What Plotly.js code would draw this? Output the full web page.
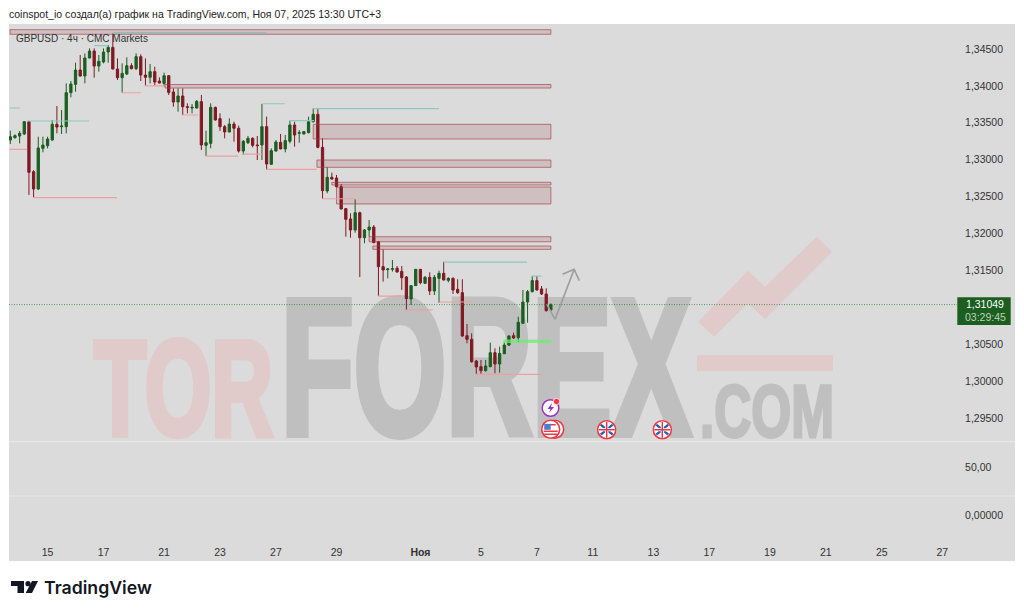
<!DOCTYPE html>
<html><head><meta charset="utf-8">
<script src="https://cdn.plot.ly/plotly-3.0.1.min.js"></script>
<style>html,body{margin:0;padding:0;background:#fff}#c{width:1024px;height:614px}</style>
</head><body><div id="c"></div>
<script>
const openP=[1.33266,1.33298,1.33320,1.33348,1.33515,1.32837,1.32602,1.33153,1.33189,1.33266,1.33479,1.33447,1.33447,1.33908,1.34021,1.34215,1.34134,1.34378,1.34473,1.34269,1.34324,1.34459,1.34522,1.34229,1.34111,1.34161,1.34274,1.34233,1.34396,1.34147,1.34116,1.34193,1.34066,1.34034,1.34138,1.33917,1.33781,1.33863,1.33718,1.33700,1.33700,
1.33786,1.33194,1.33221,1.33709,1.33556,1.33447,1.33375,1.33483,1.33425,1.33117,1.33230,1.33289,1.33199,1.33199,1.33447,1.32937,1.33117,1.33235,1.33145,1.33249,1.33470,1.33357,1.33348,1.33366,1.33515,1.33615,1.33167,1.32575,1.32760,1.32751,1.32634,1.32336,1.32196,1.32046,1.32281,1.31942,1.32046,1.32087,
1.31888,1.31549,1.31509,1.31513,1.31527,1.31486,1.31409,1.31111,1.31292,1.31513,1.31323,1.31405,1.31219,1.31391,1.31459,1.31364,1.31391,1.31242,1.31197,1.30614,1.30564,1.30270,1.30194,1.30139,1.30194,1.30383,1.30230,1.30369,1.30487,1.30614,1.30587,1.30781,1.31070,1.31210,1.31360,1.31247,1.31179,1.30962];
const highP=[1.33393,1.33343,1.33388,1.33524,1.33524,1.32859,1.33311,1.33311,1.33311,1.33537,1.33727,1.33673,1.34034,1.34066,1.34315,1.34418,1.34441,1.34509,1.34509,1.34418,1.34509,1.34554,1.34712,1.34373,1.34306,1.34387,1.34306,1.34441,1.34428,1.34373,1.34296,1.34260,1.34116,1.34179,1.34147,1.33967,1.33967,1.33967,1.33763,1.33754,1.33808,
1.33877,1.33393,1.33764,1.33718,1.33628,1.33470,1.33560,1.33515,1.33461,1.33267,1.33321,1.33303,1.33321,1.33755,1.33583,1.33154,1.33267,1.33348,1.33334,1.33529,1.33515,1.33402,1.33389,1.33583,1.33696,1.33696,1.33289,1.32896,1.32824,1.32792,1.32670,1.32340,1.32272,1.32462,1.32295,1.32060,1.32182,1.32114,
1.31893,1.31784,1.31530,1.31640,1.31558,1.31558,1.31423,1.31300,1.31518,1.31518,1.31423,1.31473,1.31436,1.31495,1.31617,1.31405,1.31405,1.31378,1.31378,1.30772,1.30646,1.30284,1.30284,1.30284,1.30519,1.30442,1.30465,1.30533,1.30623,1.30655,1.30871,1.31233,1.31233,1.31423,1.31423,1.31287,1.31256,1.31052];
const lowP=[1.33212,1.33284,1.33221,1.33334,1.32521,1.32484,1.32588,1.33099,1.33153,1.33257,1.33357,1.33348,1.33357,1.33845,1.33921,1.34125,1.34034,1.34373,1.34111,1.34193,1.34306,1.34315,1.34225,1.34080,1.33908,1.34147,1.34224,1.34215,1.34066,1.34000,1.34034,1.34012,1.34034,1.33989,1.33876,1.33718,1.33650,1.33605,1.33628,1.33628,1.33695,
1.33131,1.33050,1.33154,1.33529,1.33389,1.33289,1.33371,1.33244,1.33095,1.33063,1.33212,1.33167,1.32995,1.32995,1.32860,1.32928,1.33108,1.33140,1.33099,1.33221,1.33176,1.33230,1.33343,1.33357,1.33502,1.33154,1.32467,1.32544,1.32724,1.32625,1.32327,1.31956,1.31942,1.32010,1.31408,1.31866,1.31956,1.31866,
1.31152,1.31346,1.31391,1.31482,1.31468,1.31233,1.30962,1.31030,1.31287,1.31310,1.31314,1.31165,1.31165,1.31061,1.31360,1.31337,1.31179,1.31179,1.30600,1.30510,1.30248,1.30094,1.30094,1.30126,1.30185,1.30103,1.30112,1.30365,1.30474,1.30569,1.30519,1.30781,1.30790,1.31201,1.31224,1.31165,1.30939,1.30953];
const closeP=[1.33311,1.33325,1.33357,1.33515,1.32828,1.32602,1.33158,1.33198,1.33280,1.33479,1.33442,1.33456,1.33908,1.34025,1.34215,1.34134,1.34378,1.34473,1.34269,1.34333,1.34459,1.34522,1.34229,1.34111,1.34170,1.34274,1.34233,1.34396,1.34147,1.34116,1.34193,1.34052,1.34039,1.34138,1.33912,1.33781,1.33863,1.33718,1.33709,1.33709,1.33790,
1.33199,1.33230,1.33709,1.33538,1.33447,1.33375,1.33483,1.33425,1.33117,1.33249,1.33289,1.33194,1.33190,1.33447,1.32941,1.33122,1.33239,1.33145,1.33258,1.33470,1.33334,1.33366,1.33380,1.33515,1.33615,1.33167,1.32580,1.32760,1.32738,1.32634,1.32331,1.32191,1.32046,1.32281,1.31942,1.32046,1.32087,1.31875,
1.31549,1.31504,1.31518,1.31522,1.31477,1.31400,1.31116,1.31292,1.31513,1.31332,1.31405,1.31219,1.31405,1.31459,1.31369,1.31391,1.31233,1.31197,1.30609,1.30564,1.30261,1.30189,1.30139,1.30203,1.30383,1.30230,1.30374,1.30487,1.30609,1.30582,1.30795,1.31070,1.31210,1.31360,1.31233,1.31179,1.30953,1.31034];

const zoneTop=[1.34762,1.34019,1.33479,1.32995,1.32693,1.32629,1.31955,1.31829];
const zoneBottom=[1.34700,1.33971,1.33280,1.32896,1.32656,1.32399,1.31887,1.31784];
const zoneStart=[-0.06,33.2,65,65.8,69,70,77,77.8];
const zoneEnd=116;
const tealLevels=[1.33700,1.33524,1.34545,1.33758,1.33528,1.33691,1.31612,1.31422];
const tealStart=[-0.1,3.6,18,54,59.8,65,92.9,112];
const tealEnd=[2.1,16.9,21,58.9,65.2,92,110.9,114];
const pinkLevels=[1.33140,1.32484,1.33907,1.33999,1.33605,1.33049,1.33076,1.32869,1.32470,1.31151,1.30962,1.31070,1.30090];
const pinkStart=[-0.1,4.9,24,28.9,36.8,42,49.9,54.9,66.9,78.9,84.9,92,99.9];
const pinkEnd=[3.6,22.9,28,33.2,40.3,48.9,54,65.8,74,84,90.7,98.9,113.9];
const supportLevels=[1.34717,1.34717];
const supportBars=[22,55];
const greenZone=[1.30555,1.30521];
const greenZoneBars=[105.9,116];
const priceLineLevel=1.31035;
const arrowBars=[115.1,116.9,121,118.5,121,122.1];
const arrowPrices=[1.31043,1.30835,1.31513,1.31446,1.31513,1.31359];
const priceTicks=[1.345,1.34,1.335,1.33,1.325,1.32,1.315,1.305,1.30,1.295];
const priceTickText=['1,34500','1,34000','1,33500','1,33000','1,32500','1,32000','1,31500','1,30500','1,30000','1,29500'];
const subTicks=[50,0];
const subTickText=['50,00','0,00000'];
const dateTicks=[8,20,33,45,57,70,88,101,113,125,138,150,163,175,187,200];
const dateLabels=['15','17','21','23','27','29','<b>Ноя</b>','5','7','11','13','17','19','21','25','27'];

const L=9,R=957,T=24,B=541;
const X=p=>(p-L)/(R-L), Y=p=>(B-p)/(B-T);
const poly=pts=>'M'+pts.map(p=>X(p[0])+' '+Y(p[1])).join(' L')+' Z';
const BG='#dbdbdb', WM_RED='#e0caca', WM_GRAY='#bfbfbf', DARK='#131722';

const shapes=[];
const paperRect=(x0,y0,x1,y1,fill,layer)=>({type:'rect',xref:'paper',yref:'paper',x0:X(x0),x1:X(x1),y0:Y(y1),y1:Y(y0),fillcolor:fill,line:{width:0},layer:layer||'below'});
shapes.push(paperRect(9,24,1015,561,BG));
shapes.push({type:'path',xref:'paper',yref:'paper',layer:'below',fillcolor:WM_RED,line:{width:0},
 path:poly([[698,321.7],[748,270.7],[765,286.7],[817,236.7],[832,251.7],[765,319.3],[748,303.3],[714,336.7]])});
shapes.push(paperRect(697,355,833,371,WM_RED));
[441.7,496].forEach(p=>shapes.push({type:'line',xref:'paper',yref:'paper',layer:'below',x0:X(9),x1:X(1015),y0:Y(p),y1:Y(p),line:{color:'#e9e9e9',width:1.2}}));
shapes.push({type:'line',xref:'paper',yref:'y',x0:0,x1:1,y0:priceLineLevel,y1:priceLineLevel,line:{color:'rgba(27,120,45,0.7)',width:1,dash:'1px,1.5px'}});
zoneTop.forEach((t,i)=>shapes.push({type:'rect',xref:'x',yref:'y',x0:zoneStart[i],x1:zoneEnd,y0:zoneBottom[i],y1:t,fillcolor:'rgba(128,25,34,0.14)',line:{color:'rgba(165,60,70,0.65)',width:1}}));
tealLevels.forEach((v,i)=>shapes.push({type:'line',xref:'x',yref:'y',x0:tealStart[i],x1:tealEnd[i],y0:v,y1:v,line:{color:'#8ccabd',width:1.2}}));
pinkLevels.forEach((v,i)=>shapes.push({type:'line',xref:'x',yref:'y',x0:pinkStart[i],x1:pinkEnd[i],y0:v,y1:v,line:{color:'#ee9f9f',width:1.2}}));
shapes.push({type:'line',xref:'x',yref:'y',x0:supportBars[0],x1:supportBars[1],y0:supportLevels[0],y1:supportLevels[1],line:{color:'#a3b5b1',width:2}});
shapes.push({type:'rect',xref:'x',yref:'y',x0:greenZoneBars[0],x1:greenZoneBars[1],y0:greenZone[1],y1:greenZone[0],fillcolor:'rgba(100,240,100,0.65)',line:{color:'rgba(120,235,120,0.7)',width:1}});
shapes.push(paperRect(957.3,297.3,1010.7,325,'#1b5e20','above'));
shapes.push({type:'path',xref:'paper',yref:'paper',fillcolor:DARK,line:{width:0},path:poly([[11,581],[24,581],[24,593],[17.5,593],[17.5,586],[11,586]])});
shapes.push({type:'path',xref:'paper',yref:'paper',fillcolor:DARK,line:{width:0},path:poly([[32,581],[38,581],[32,593],[25.7,593]])});
shapes.push({type:'circle',xref:'paper',yref:'paper',fillcolor:DARK,line:{width:0},x0:X(25.4),x1:X(30.6),y0:Y(586.3),y1:Y(581.1)});

const ann=(text,px,py,size,color,extra)=>Object.assign({text,xref:'paper',yref:'paper',x:X(px),y:Y(py),showarrow:false,xanchor:'left',yanchor:'middle',font:{family:'Liberation Sans, Arial, sans-serif',size,color}},extra||{});
const WM_FONT='Liberation Sans Narrow, Liberation Sans, sans-serif';
const annotations=[
 ann('TOR',92,390,135,WM_RED,{font:{family:WM_FONT,size:135,color:WM_RED,weight:700}}),
 ann('FOREX',284,365,193,WM_GRAY,{font:{family:WM_FONT,size:193,color:WM_GRAY,weight:700}}),
 ann('.COM',702,410,75,WM_GRAY,{font:{family:WM_FONT,size:75,color:WM_GRAY,weight:700}}),
 ann('GBPUSD · 4ч · CMC Markets',14,38.2,10,'#333'),
 ann('1,31049',964,304,10.5,'#ffffff'),
 ann('03:29:45',963,317,10.5,'#bcd3bd'),
 ann('TradingView',42,587.5,17.7,DARK,{font:{family:'Inter, Liberation Sans, sans-serif',size:17.7,color:DARK,weight:600}}),
];
const wmTargets={'TOR':{left:94,width:179,base:435,stroke:6,color:WM_RED},'FOREX':{left:281,width:410,base:434,stroke:8,color:WM_GRAY},'.COM':{left:700,width:134,base:436.5,stroke:3,color:WM_GRAY}};

const usFlag="<circle cx='14' cy='10' r='9' fill='#fff' stroke='#f23645' stroke-width='1.6'/><circle cx='10' cy='10' r='9' fill='#fff' stroke='#f23645' stroke-width='1.6'/><path d='M3 12h14M3.5 15h13M5 5.5h10' stroke='#f23645' stroke-width='1.6'/><rect x='3.5' y='4.5' width='6.5' height='6' fill='#4a7fd0'/>";
const ukFlag="<circle cx='10' cy='10' r='9' fill='#fff' stroke='#f23645' stroke-width='1.6'/><path d='M4 5l12 10M16 5L4 15' stroke='#2c5fb0' stroke-width='2.4'/><path d='M10 2v16M2 10h16' stroke='#fff' stroke-width='3'/><path d='M10 2v16M2 10h16' stroke='#e0394a' stroke-width='1.5'/>";
const bolt="<circle cx='9.5' cy='10.5' r='8.3' fill='#fff' stroke='#9c2fc0' stroke-width='1.5'/><path d='M11 5.5L6.5 11.5h3l-1.5 4 5-6h-3z' fill='#9c2fc0'/><circle cx='15.5' cy='4' r='3.2' fill='#f23645' stroke='#fff' stroke-width='.8'/>";
const svgURI=(w,inner)=>'data:image/svg+xml;utf8,'+encodeURIComponent(`<svg xmlns='http://www.w3.org/2000/svg' width='${w}' height='20' viewBox='0 0 ${w} 20'>${inner}</svg>`);
const img=(src,px,py,w)=>({source:src,xref:'paper',yref:'paper',x:X(px),y:Y(py),sizex:w/(R-L),sizey:20/(B-T),xanchor:'left',yanchor:'top',sizing:'stretch',layer:'above'});
const images=[img(svgURI(20,bolt),541,397.5,20),img(svgURI(25,usFlag),540.7,419.3,25),img(svgURI(20,ukFlag),596.7,419.7,20),img(svgURI(20,ukFlag),652.3,419.7,20)];

const barIndex=openP.map((_,i)=>i);
const data=[
 {type:'candlestick',x:barIndex,open:openP,high:highP,low:lowP,close:closeP,xaxis:'x',yaxis:'y',width:0.66,whiskerwidth:0,
  increasing:{line:{color:'#1b5e20',width:1},fillcolor:'#1b5e20'},decreasing:{line:{color:'#801922',width:1},fillcolor:'#801922'},hoverinfo:'skip',showlegend:false},
 {type:'scatter',mode:'lines',x:arrowBars,y:arrowPrices,line:{color:'#9e9e9e',width:1.6},hoverinfo:'skip',showlegend:false},
 {type:'scatter',mode:'lines',x:[null],y:[null],yaxis:'y2',hoverinfo:'skip',showlegend:false}
];
const tickFont={family:'Liberation Sans, Arial, sans-serif',size:10.5,color:'#333'};
const layout={
 width:1024,height:614,autosize:false,paper_bgcolor:'#fff',plot_bgcolor:'rgba(0,0,0,0)',showlegend:false,dragmode:false,
 margin:{l:L,r:1024-R,t:T,b:614-B,pad:0},
 title:{text:'coinspot_io создал(а) график на TradingView.com, Ноя 07, 2025 13:30 UTC+3',x:9/1024,xanchor:'left',xref:'container',y:1-14/614,yref:'container',yanchor:'middle',font:{family:'Liberation Sans, Arial, sans-serif',size:10.5,color:'#222'},automargin:false},
 xaxis:{domain:[0,1],anchor:'y2',range:[-0.279,203.15],tickmode:'array',tickvals:dateTicks,ticktext:dateLabels,tickfont:tickFont,showgrid:false,zeroline:false,showline:false,ticks:'outside',ticklen:1,tickcolor:'rgba(0,0,0,0)',rangeslider:{visible:false},automargin:false,tickangle:0},
 yaxis:{domain:[(B-441.5)/(B-T),1],side:'right',anchor:'x',range:[1.29179,1.34839],tickmode:'array',tickvals:priceTicks,ticktext:priceTickText,tickfont:tickFont,showgrid:false,zeroline:false,showline:false,ticks:'outside',ticklen:5,tickcolor:'rgba(0,0,0,0)',automargin:false},
 yaxis2:{domain:[0,(B-441.5)/(B-T)],side:'right',anchor:'x',range:[-27,76.6],tickmode:'array',tickvals:subTicks,ticktext:subTickText,tickfont:tickFont,showgrid:false,zeroline:false,showline:false,ticks:'outside',ticklen:5,tickcolor:'rgba(0,0,0,0)',automargin:false},
 shapes,annotations,images
};
const gd=document.getElementById('c');
Plotly.newPlot(gd,data,layout,{displayModeBar:false,staticPlot:true}).then(()=>{
 const below=gd.querySelector('.layer-below');
 gd.querySelectorAll('.annotation').forEach(g=>{
  const t=g.querySelector('text'); const tgt=wmTargets[t.textContent.trim()];
  if(!tgt) return;
  below.appendChild(g);
  t.setAttribute('text-anchor','start');
  t.setAttribute('textLength',tgt.width);
  t.setAttribute('lengthAdjust','spacingAndGlyphs');
  t.style.stroke=tgt.color;
  t.style.strokeWidth=tgt.stroke+'px';
  t.style.strokeLinejoin='miter';
  const m=t.getCTM();
  t.setAttribute('x',tgt.left-m.e);
  t.setAttribute('y',tgt.base-m.f);
 });
});
</script></body></html>
